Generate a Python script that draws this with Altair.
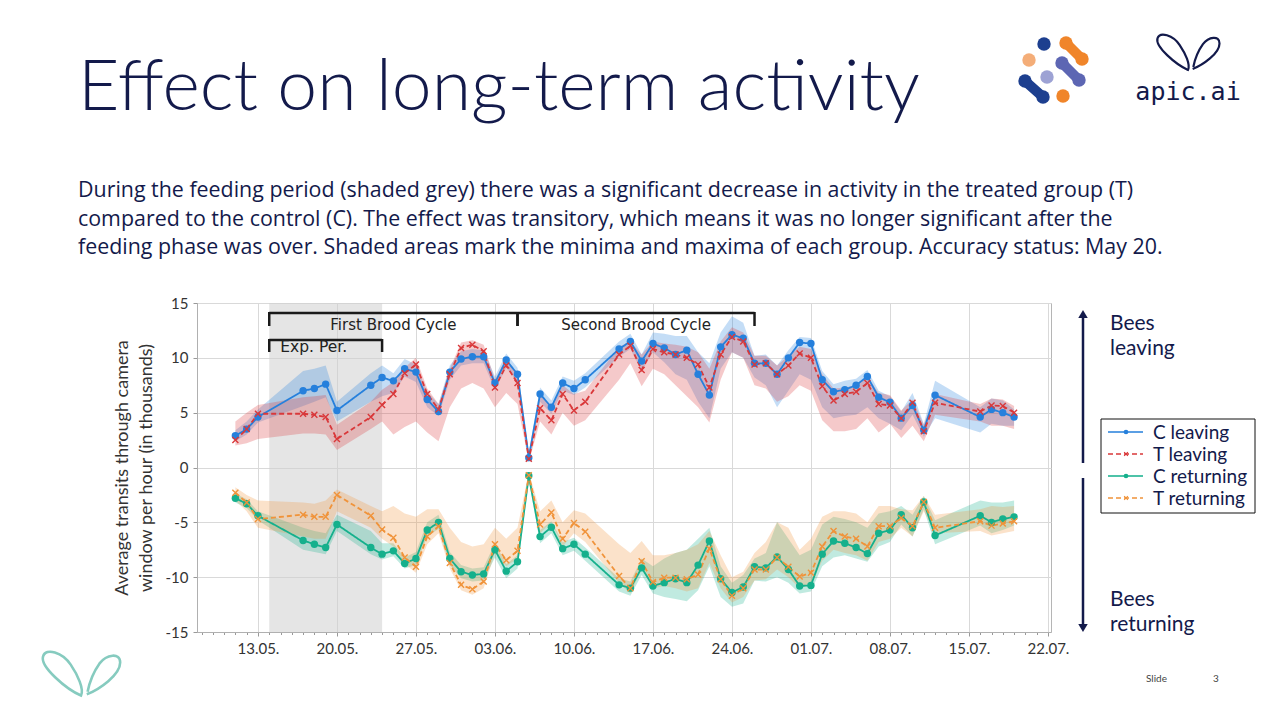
import altair as alt
import pandas as pd

# ---------------- data ----------------
dates = ["2021-05-11", "2021-05-12", "2021-05-13", "2021-05-17", "2021-05-18", "2021-05-19", "2021-05-20",
         "2021-05-23", "2021-05-24", "2021-05-25", "2021-05-26", "2021-05-27", "2021-05-28", "2021-05-29",
         "2021-05-30", "2021-05-31", "2021-06-01", "2021-06-02", "2021-06-03", "2021-06-04", "2021-06-05",
         "2021-06-06", "2021-06-07", "2021-06-08", "2021-06-09", "2021-06-10", "2021-06-11", "2021-06-14",
         "2021-06-15", "2021-06-16", "2021-06-17", "2021-06-18", "2021-06-19", "2021-06-20", "2021-06-21",
         "2021-06-22", "2021-06-23", "2021-06-24", "2021-06-25", "2021-06-26", "2021-06-27", "2021-06-28",
         "2021-06-29", "2021-06-30", "2021-07-01", "2021-07-02", "2021-07-03", "2021-07-04", "2021-07-05",
         "2021-07-06", "2021-07-07", "2021-07-08", "2021-07-09", "2021-07-10", "2021-07-11", "2021-07-12",
         "2021-07-16", "2021-07-17", "2021-07-18", "2021-07-19"]

c_leave = [2.9, 3.5, 4.6, 7.0, 7.2, 7.6, 5.2, 7.5, 8.2, 7.9, 9.0, 8.7, 6.2, 5.1, 8.7, 9.9,
           10.1, 10.1, 7.7, 9.8, 8.5, 0.9, 6.7, 5.5, 7.7, 7.2, 8.0, 10.8, 11.5, 9.7, 11.3, 10.9,
           10.3, 10.7, 8.5, 6.6, 11.0, 12.1, 11.8, 9.5, 9.5, 8.5, 10.0, 11.4, 11.3, 8.0, 6.9, 7.1,
           7.5, 8.3, 6.4, 5.95, 4.5, 5.65, 3.4, 6.6, 4.6, 5.3, 5.0, 4.6]
c_leave_lo = [2.4, 3.0, 4.1, 5.6, 6.0, 6.4, 4.2, 6.0, 6.5, 6.8, 8.3, 7.8, 5.5, 4.7, 8.0, 9.3,
              9.5, 9.5, 7.1, 9.1, 7.8, 0.5, 6.0, 4.9, 7.0, 6.6, 7.3, 10.1, 10.8, 8.8, 10.5, 9.6,
              8.5, 8.0, 6.0, 4.5, 9.0, 10.5, 10.0, 8.2, 7.5, 5.5, 7.0, 8.5, 8.0, 5.5, 4.5, 4.7,
              4.8, 5.5, 4.5, 4.0, 3.4, 4.8, 2.8, 4.5, 3.2, 4.0, 3.8, 3.8]
c_leave_hi = [3.4, 4.2, 5.3, 8.8, 9.0, 9.3, 6.0, 8.6, 9.3, 8.6, 9.9, 9.4, 6.9, 5.8, 9.3, 10.6,
              10.8, 10.7, 8.3, 10.4, 9.1, 1.4, 7.3, 6.1, 8.3, 7.9, 8.6, 11.5, 12.2, 10.3, 12.3, 12.2,
              12.0, 12.0, 10.5, 9.5, 12.3, 13.8, 13.2, 10.2, 10.3, 9.3, 10.7, 11.9, 11.8, 8.8, 7.6, 7.9,
              8.1, 8.9, 7.0, 6.5, 5.1, 6.8, 4.0, 7.9, 5.5, 6.3, 6.1, 5.3]

t_leave = [2.5, 3.5, 4.9, 4.9, 4.8, 4.6, 2.6, 4.6, 5.7, 6.7, 8.6, 9.4, 6.7, 5.3, 8.5, 10.9,
           11.2, 10.6, 7.3, 9.3, 7.7, 0.8, 5.4, 4.3, 6.7, 5.2, 6.0, 10.3, 11.1, 8.9, 10.8, 10.5,
           10.3, 10.0, 9.4, 7.3, 10.3, 11.9, 11.5, 9.4, 9.5, 8.5, 9.3, 10.4, 10.0, 7.4, 6.1, 6.7,
           6.9, 7.7, 5.8, 5.65, 4.5, 5.9, 3.3, 5.9, 5.1, 5.65, 5.6, 5.0]
t_leave_lo = [2.0, 2.2, 2.6, 3.1, 3.1, 3.0, 1.6, 3.5, 4.2, 3.0, 3.7, 4.2, 3.2, 2.4, 5.5, 7.2,
              7.7, 7.2, 5.5, 6.8, 5.8, 0.5, 4.2, 3.0, 5.0, 3.8, 4.3, 8.0, 9.5, 7.4, 9.0, 8.5,
              7.5, 6.5, 5.5, 4.1, 8.0, 10.5, 10.0, 7.5, 7.2, 6.0, 6.5, 7.5, 7.0, 4.3, 3.3, 3.3,
              3.5, 4.5, 3.2, 4.0, 2.7, 3.8, 2.4, 4.8, 4.2, 3.8, 3.8, 3.5]
t_leave_hi = [4.2, 5.0, 5.7, 6.4, 6.5, 6.6, 3.9, 6.0, 7.1, 7.8, 9.1, 10.0, 7.2, 5.8, 9.0, 11.4,
              11.6, 11.2, 8.0, 10.0, 8.5, 1.2, 6.8, 5.5, 7.5, 6.7, 7.0, 11.0, 11.5, 10.3, 11.5, 11.3,
              11.2, 11.0, 10.5, 9.0, 11.5, 12.8, 12.3, 10.2, 10.2, 9.3, 10.2, 11.0, 10.8, 8.5, 7.2, 7.3,
              7.5, 8.3, 6.8, 6.6, 5.2, 6.2, 3.9, 6.7, 5.8, 6.3, 6.2, 5.6]

c_ret = [-2.8, -3.3, -4.4, -6.65, -7.0, -7.3, -5.2, -7.3, -7.9, -7.6, -8.75, -8.3, -5.7, -5.0, -8.3, -9.5,
         -9.8, -9.7, -7.5, -9.45, -8.6, -0.75, -6.3, -5.45, -7.4, -7.0, -7.9, -10.7, -11.0, -9.15, -10.8, -10.5,
         -10.15, -10.5, -8.9, -6.7, -10.15, -11.4, -10.9, -9.05, -9.15, -8.15, -9.3, -10.8, -10.75, -7.9, -6.7, -6.9,
         -7.3, -7.85, -6.0, -5.7, -4.3, -5.5, -3.15, -6.2, -4.4, -5.0, -4.7, -4.5]
c_ret_lo = [-3.2, -3.7, -4.8, -7.5, -7.7, -7.9, -5.8, -7.9, -8.4, -8.1, -9.2, -8.9, -6.3, -5.6, -8.9, -10.1,
            -10.4, -10.3, -8.2, -10.1, -9.2, -1.2, -6.9, -6.0, -8.0, -7.6, -8.5, -11.3, -11.7, -9.8, -11.5, -11.8,
            -12.0, -12.2, -11.2, -9.0, -11.8, -12.7, -12.4, -10.3, -10.4, -10.0, -10.5, -11.5, -11.3, -9.0, -8.2, -8.0,
            -8.3, -8.6, -7.2, -6.8, -5.2, -6.3, -3.8, -7.0, -5.3, -6.0, -5.7, -5.3]
c_ret_hi = [-2.4, -2.9, -4.0, -5.5, -5.8, -6.0, -4.3, -5.8, -6.9, -6.9, -8.2, -7.7, -5.0, -4.3, -7.7, -8.9,
            -9.2, -9.1, -6.9, -8.8, -8.0, -0.4, -5.7, -4.9, -6.8, -6.4, -7.3, -10.1, -10.4, -8.3, -9.0, -8.3,
            -7.8, -7.5, -6.5, -5.5, -9.0, -10.5, -9.8, -8.3, -7.8, -5.0, -6.5, -8.0, -7.5, -5.2, -4.5, -4.7,
            -5.0, -5.5, -4.2, -4.0, -3.5, -4.3, -2.6, -4.8, -3.0, -3.2, -3.2, -3.0]

t_ret = [-2.3, -3.2, -4.7, -4.3, -4.5, -4.5, -2.5, -4.4, -5.65, -6.4, -8.2, -9.05, -6.3, -5.35, -8.7, -10.7,
         -11.1, -10.4, -7.0, -8.45, -7.6, -0.7, -5.2, -4.1, -6.5, -5.05, -5.85, -9.9, -11.0, -8.55, -10.45, -10.05,
         -10.05, -10.2, -9.75, -7.4, -10.2, -11.7, -11.0, -9.3, -9.3, -8.2, -9.05, -9.95, -9.6, -7.2, -5.8, -6.3,
         -6.5, -7.2, -5.35, -5.35, -4.6, -5.35, -3.15, -5.5, -4.9, -5.3, -5.1, -4.9]
t_ret_lo = [-3.0, -4.0, -5.5, -6.3, -6.5, -6.5, -4.0, -5.5, -6.5, -7.2, -8.8, -9.6, -7.0, -6.0, -9.2, -11.2,
            -11.6, -11.0, -7.8, -9.0, -8.3, -1.2, -6.0, -5.0, -7.2, -6.0, -6.8, -10.5, -11.5, -9.3, -11.0, -10.8,
            -11.0, -11.3, -11.0, -8.7, -11.0, -12.3, -11.8, -10.3, -10.2, -9.3, -10.0, -11.0, -10.7, -8.5, -7.5, -7.8,
            -8.0, -8.5, -6.8, -6.5, -5.5, -6.3, -4.0, -6.0, -5.8, -6.2, -6.0, -5.8]
t_ret_hi = [-1.8, -2.5, -3.0, -3.2, -3.3, -3.0, -2.0, -3.5, -4.0, -3.5, -4.2, -4.5, -3.8, -3.8, -5.5, -6.8,
            -7.2, -7.0, -5.5, -6.5, -5.5, -0.4, -4.0, -3.0, -5.0, -3.9, -4.2, -7.0, -7.8, -6.7, -8.0, -8.0,
            -7.8, -7.5, -7.0, -5.8, -8.0, -10.0, -9.5, -7.8, -6.8, -5.0, -5.5, -7.5, -6.5, -4.5, -4.0, -4.0,
            -4.2, -5.0, -3.5, -3.5, -3.8, -3.9, -2.6, -4.3, -3.8, -3.5, -3.6, -3.5]

series_names = ["C leaving", "T leaving", "C returning", "T returning"]
series_colors = ["#2680dc", "#d9383a", "#15b08c", "#f0933a"]
series_dash = [[1, 0], [5, 3], [1, 0], [5, 3]]

y_ticks = [-15, -10, -5, 0, 5, 10, 15]

periods = ["First Brood Cycle", "Second Brood Cycle", "Exp. Per."]
period_start = ["2021-05-14", "2021-06-05", "2021-05-14"]
period_end = ["2021-06-05", "2021-06-26", "2021-05-24"]
feeding_start = ["2021-05-14"]
feeding_end = ["2021-05-24"]

title_text = "Effect on long-term activity"
paragraph = [
    "During the feeding period (shaded grey) there was a significant decrease in activity in the treated group (T)",
    "compared to the control (C). The effect was transitory, which means it was no longer significant after the",
    "feeding phase was over. Shaded areas mark the minima and maxima of each group. Accuracy status: May 20.",
]
y_title = ["Average transits through camera", "window per hour (in thousands)"]

# ---------------- build tables ----------------
rows = []
for name, vals, lo, hi in zip(series_names,
                              [c_leave, t_leave, c_ret, t_ret],
                              [c_leave_lo, t_leave_lo, c_ret_lo, t_ret_lo],
                              [c_leave_hi, t_leave_hi, c_ret_hi, t_ret_hi]):
    for d, v, l, h in zip(dates, vals, lo, hi):
        rows.append({"date": d, "series": name, "value": v, "lo": l, "hi": h})
df = pd.DataFrame(rows)
per_df = pd.DataFrame({"label": periods, "start": period_start, "end": period_end})
feed_df = pd.DataFrame({"start": feeding_start, "end": feeding_end})
one = pd.DataFrame({"a": [0]})

# ---------------- layout constants ----------------
L, T = 197, 303          # plot origin on the slide
W, H = 854, 329          # plot area size
NAVY = "#131a4b"
SLIDE_FONT = "Lato"

def ms(s):
    return int(pd.Timestamp(s, tz="UTC").timestamp() * 1000)

x_domain = [ms("2021-05-07 14:24"), ms("2021-07-22 06:30")]
day_ticks = [ms(t) for t in pd.date_range("2021-05-08", "2021-07-22", freq="D")]
weekly_test = "abs(((datum.value - %d) / 86400000) %% 7) < 0.001" % ms("2021-05-13")

xaxis = alt.Axis(
    title=None, values=day_ticks, format="%d.%m.",
    labelExpr="(%s) ? datum.label : ''" % weekly_test,
    labelFont=SLIDE_FONT, labelFontSize=15, labelColor="#333333",
    labelFlush=False, labelOverlap=False, labelPadding=5,
    tickSize={"condition": {"test": weekly_test, "value": 4}, "value": 2.5},
    tickColor="#999999", grid=True,
    gridOpacity={"condition": {"test": weekly_test, "value": 1}, "value": 0},
    gridColor="#d9d9d9", domainColor="#b0b0b0",
)
yaxis = alt.Axis(
    title=y_title, values=y_ticks,
    labelExpr="datum.value < 0 ? '-' + abs(datum.value) : '' + datum.value",
    labelFont=SLIDE_FONT, labelFontSize=15, labelColor="#333333",
    labelPadding=5, tickSize=4, tickColor="#999999", grid=True, gridColor="#d9d9d9",
    domainColor="#b0b0b0", titleFont=SLIDE_FONT, titleFontSize=18, titleFontWeight="normal",
    titleColor="#333333", titlePadding=10, titleLineHeight=24,
)
xscale = alt.Scale(type="utc", domain=x_domain)
yscale = alt.Scale(domain=[-15, 15], nice=False)

def X(field):
    return alt.X(field, type="temporal", scale=xscale, axis=xaxis)

def Y(field):
    return alt.Y(field, type="quantitative", scale=yscale, axis=yaxis)

color = alt.Color("series:N", scale=alt.Scale(domain=series_names, range=series_colors), legend=None)
dash = alt.StrokeDash("series:N", scale=alt.Scale(domain=series_names, range=series_dash), legend=None)

X_SHAPE = "M-1,-1L1,1M-1,1L1,-1"

# ---------------- chart layers ----------------
feeding = alt.Chart(feed_df).mark_rect(color="#cfcfcf", opacity=0.55).encode(
    x=X("start"), x2="end", y=alt.value(0), y2=alt.value(H))

bands = alt.Chart(df).mark_area(opacity=0.27).encode(
    x=X("date"), y=Y("lo"), y2="hi", color=color, detail="series:N")

lines = alt.Chart(df).mark_line(strokeWidth=1.8).encode(
    x=X("date"), y=Y("value"), color=color, strokeDash=dash, detail="series:N")

c_pts = alt.Chart(df).transform_filter(
    "indexof(datum.series, 'C ') == 0").mark_point(filled=True, size=55, opacity=1).encode(
    x=X("date"), y=Y("value"), color=color)

t_pts = alt.Chart(df).transform_filter(
    "indexof(datum.series, 'T ') == 0").mark_point(shape=X_SHAPE, filled=False, size=36,
                                                     strokeWidth=1.4, opacity=1).encode(
    x=X("date"), y=Y("value"), color=color)

brood = per_df[per_df["label"] != "Exp. Per."]
expp = per_df[per_df["label"] == "Exp. Per."]
BR = dict(color="#1a1a1a", strokeWidth=2.5)

brood_h = alt.Chart(brood).mark_rule(**BR).encode(x=X("start"), x2="end", y=alt.value(10))
brood_v1 = alt.Chart(brood).mark_rule(**BR).encode(x=X("start"), y=alt.value(9), y2=alt.value(23))
brood_v2 = alt.Chart(brood).mark_rule(**BR).encode(x=X("end"), y=alt.value(9), y2=alt.value(23))
brood_t = alt.Chart(brood).transform_calculate(
    mid="(toDate(datum.start) + toDate(datum.end)) / 2").mark_text(
    font="DejaVu Sans", fontSize=15, color="#222222", baseline="middle").encode(
    x=X("mid"), y=alt.value(22), text="label:N")

exp_h = alt.Chart(expp).mark_rule(**BR).encode(x=X("start"), x2="end", y=alt.value(37))
exp_v1 = alt.Chart(expp).mark_rule(**BR).encode(x=X("start"), y=alt.value(36), y2=alt.value(49))
exp_v2 = alt.Chart(expp).mark_rule(**BR).encode(x=X("end"), y=alt.value(36), y2=alt.value(49))
exp_t = alt.Chart(expp).mark_text(font="DejaVu Sans", fontSize=15.5, color="#222222",
                                  baseline="middle", align="left", dx=11).encode(
    x=X("start"), y=alt.value(44), text="label:N")

# ---------------- slide decorations (pixel positions) ----------------
deco = []

def txt(s, x, y, size, color=NAVY, font=SLIDE_FONT, align="left", baseline="alphabetic", weight="normal"):
    deco.append(alt.Chart(one).mark_text(text=s, font=font, fontSize=size, color=color, align=align,
                                         baseline=baseline, fontWeight=weight).encode(
        x=alt.value(x - L), y=alt.value(y - T)))

def rule(x1, y1, x2, y2, color, width, cap="butt"):
    deco.append(alt.Chart(one).mark_rule(color=color, strokeWidth=width, strokeCap=cap).encode(
        x=alt.value(x1 - L), y=alt.value(y1 - T), x2=alt.value(x2 - L), y2=alt.value(y2 - T)))

def sym(x, y, shape, size, color, filled=True, width=1.5):
    if filled:
        m = alt.Chart(one).mark_point(shape=shape, size=size, filled=True, color=color, opacity=1)
    else:
        m = alt.Chart(one).mark_point(shape=shape, size=size, filled=False, color=color, opacity=1,
                                      strokeWidth=width)
    deco.append(m.encode(x=alt.value(x - L), y=alt.value(y - T)))

txt(title_text, 78, 110, 71.5, weight=300)
for i, line in enumerate(paragraph):
    txt(line, 78, 197 + i * 28.5, 21.4, font="Open Sans")

# arrows and side texts
rule(1083, 316, 1083, 463, NAVY, 2.5)
sym(1083, 314, "triangle-up", 90, NAVY)
rule(1083, 478, 1083, 626, NAVY, 2.5)
sym(1083, 628, "triangle-down", 90, NAVY)
txt("Bees", 1110, 330, 21)
txt("leaving", 1110, 355, 21)
txt("Bees", 1110, 606, 21)
txt("returning", 1110, 631, 21)

# legend box
deco.append(alt.Chart(one).mark_rect(fill="white", stroke="#111111", strokeWidth=1).encode(
    x=alt.value(1101 - L), x2=alt.value(1255 - L), y=alt.value(419 - T), y2=alt.value(513 - T)))
for i, (name, col, dsh) in enumerate(zip(series_names, series_colors, series_dash)):
    yy = 432 + i * 22
    deco.append(alt.Chart(one).mark_rule(color=col, strokeWidth=1.6, strokeDash=dsh).encode(
        x=alt.value(1108 - L), x2=alt.value(1143 - L), y=alt.value(yy - T)))
    if name.startswith("C"):
        sym(1126, yy, "circle", 22, col)
    else:
        sym(1126, yy, X_SHAPE, 14, col, filled=False, width=1.2)
    txt(name, 1153, yy + 6.5, 19)

# apic.ai logo: dots
LOGO_BLUE, LOGO_OR, LOGO_LOR, LOGO_PUR, LOGO_LPUR = "#1d3f8f", "#f0852a", "#f4ad78", "#5d66b3", "#9da2d4"
rule(1066, 43, 1082, 59, LOGO_OR, 10, "round")
rule(1062, 63, 1079, 80, LOGO_PUR, 10, "round")
rule(1025, 81, 1043, 97, LOGO_BLUE, 10, "round")
for (cx, cy, col) in [(1044, 44, LOGO_BLUE), (1066, 43, LOGO_OR), (1082, 59, LOGO_OR), (1029, 60, LOGO_LOR),
                      (1062, 63, LOGO_PUR), (1079, 80, LOGO_PUR), (1047, 77, LOGO_LPUR),
                      (1025, 81, LOGO_BLUE), (1043, 97, LOGO_BLUE), (1063, 96, LOGO_OR)]:
    sym(cx, cy, "circle", 180, col)

BUTTERFLY = ("M0,0.45 C-0.35,0.3 -1.0,-0.25 -0.92,-0.5 C-0.85,-0.72 -0.45,-0.6 -0.25,-0.3 "
             "C-0.08,-0.05 0.08,0.3 0,0.45 Z "
             "M0.14,0.42 C0.45,0.3 0.95,-0.05 0.95,-0.35 C0.95,-0.6 0.62,-0.55 0.45,-0.33 "
             "C0.3,-0.12 0.2,0.15 0.16,0.36")
sym(1188, 55, BUTTERFLY, 4400, NAVY, filled=False, width=2.2)
txt("apic.ai", 1188, 100, 25, font="DejaVu Sans Mono", align="center")
sym(81, 677, BUTTERFLY, 6800, "#86cbbf", filled=False, width=2.6)

txt("Slide", 1146, 682, 10, color="#444444")
txt("3", 1213, 682, 10, color="#444444")

chart = alt.layer(
    feeding, bands, lines, c_pts, t_pts,
    brood_h, brood_v1, brood_v2, brood_t, exp_h, exp_v1, exp_v2, exp_t,
    *deco
).properties(
    width=W, height=H, autosize="none",
    padding={"left": L, "top": T, "right": 1280 - L - W, "bottom": 720 - T - H},
    background="white",
).configure_view(stroke="#b5b5b5", strokeWidth=1)

chart.save("out.html", embed_options={"renderer": "svg", "actions": False})
